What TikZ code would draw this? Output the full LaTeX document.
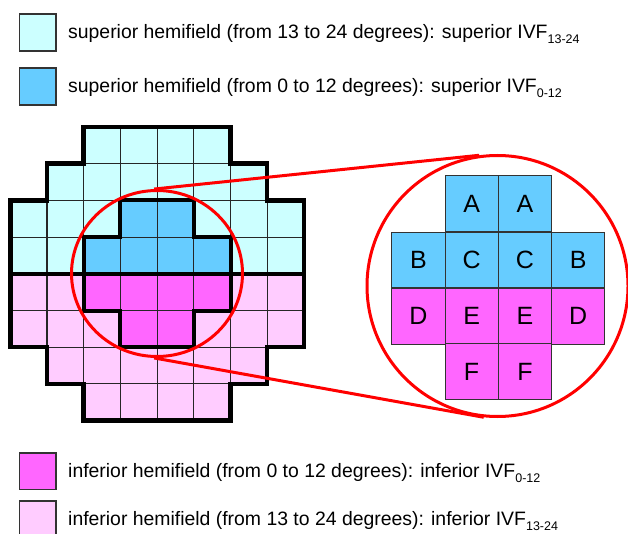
\documentclass[tikz,border=0pt]{standalone}
\usepackage{fontspec}
\setmainfont{Liberation Sans}
\usetikzlibrary{shapes.geometric}
\definecolor{paleblue}{HTML}{CCFFFF}
\definecolor{midblue}{HTML}{66CCFF}
\definecolor{hotpink}{HTML}{FF66FF}
\definecolor{palepink}{HTML}{FFCCFF}
\definecolor{edgegray}{HTML}{333333}
\newcommand{\ivfsub}[1]{\raisebox{-5pt}{\fontsize{12.5pt}{14pt}\selectfont #1}}

\begin{document}
\begin{tikzpicture}[x=1pt,y=-1pt,
  swatch/.style={draw=edgegray, line width=1.5pt, minimum size=36.7pt, inner sep=0pt},
  legtext/.style={anchor=base west, inner sep=0pt, font=\fontsize{19.4pt}{23pt}\selectfont},
  gridthin/.style={line width=1.1pt, draw=black!85},
  gridbold/.style={line width=4.5pt, draw=black},
  crossbold/.style={line width=4pt, draw=black},
  redline/.style={draw=red, line width=3pt},
  cellbox/.style={draw=edgegray, line width=1pt, minimum width=53.2pt, minimum height=55.9pt,
                  inner sep=0pt, font=\fontsize{25pt}{25pt}\selectfont}]

\fill[white] (0,0) rectangle (628,534);
\useasboundingbox (0,0) rectangle (628,534);

% legend
\node[swatch, fill=paleblue] (s1) at (37.6,32.5) {};
\node[legtext] (t1) at (68,38.5) {superior hemifield (from 13 to 24 degrees): superior IVF\ivfsub{13-24}};
\node[swatch, fill=midblue] (s2) at (37.6,86.5) {};
\node[legtext] (t2) at (68,92.5) {superior hemifield (from 0 to 12 degrees): superior IVF\ivfsub{0-12}};
\node[swatch, fill=hotpink] (s3) at (37.6,471.3) {};
\node[legtext] (t3) at (68,477) {inferior hemifield (from 0 to 12 degrees): inferior IVF\ivfsub{0-12}};
\node[swatch, fill=palepink] (s4) at (37.6,519.5) {};
\node[legtext] (t4) at (68,525) {inferior hemifield (from 13 to 24 degrees): inferior IVF\ivfsub{13-24}};

% visual field grid, one unit per test location
\begin{scope}[shift={(10.3pt,-127pt)}, x=36.7pt, y=-36.7pt]
  \fill[paleblue] (2,0)--(6,0)--(6,1)--(7,1)--(7,2)--(8,2)--(8,4)--(0,4)--(0,2)--(1,2)--(1,1)--(2,1)--cycle;
  \fill[palepink] (0,4)--(8,4)--(8,6)--(7,6)--(7,7)--(6,7)--(6,8)--(2,8)--(2,7)--(1,7)--(1,6)--(0,6)--cycle;
  \fill[midblue] (3,2)--(5,2)--(5,3)--(6,3)--(6,4)--(2,4)--(2,3)--(3,3)--cycle;
  \fill[hotpink] (2,4)--(6,4)--(6,5)--(5,5)--(5,6)--(3,6)--(3,5)--(2,5)--cycle;
  \foreach \r/\a/\b in {0/2/5,1/1/6,2/0/7,3/0/7,4/0/7,5/0/7,6/1/6,7/2/5}
    \foreach \c in {\a,...,\b}
      \draw[gridthin] (\c,\r) rectangle ++(1,1);
  \draw[gridbold] (2,0)--(6,0)--(6,1)--(7,1)--(7,2)--(8,2)--(8,6)--(7,6)--(7,7)--(6,7)--(6,8)
      --(2,8)--(2,7)--(1,7)--(1,6)--(0,6)--(0,2)--(1,2)--(1,1)--(2,1)--cycle;
  \draw[crossbold] (0,4)--(8,4);
  \draw[crossbold] (3,2)--(5,2)--(5,3)--(6,3)--(6,5)--(5,5)--(5,6)--(3,6)--(3,5)--(2,5)--(2,3)--(3,3)--cycle;
\end{scope}

% central region and its enlargement
\node[ellipse, redline, minimum width=171pt, minimum height=166pt, inner sep=0pt] (lens) at (157,273.5) {};
\node[circle, redline, minimum size=261pt, inner sep=0pt] (zoomc) at (497.5,286) {};
\draw[redline] (lens.92) -- (zoomc.98);
\draw[redline] (lens.-92) -- (zoomc.-96);

\node[cellbox, fill=midblue] (a1) at (471.6,203.7) {A};
\node[cellbox, fill=midblue] (a2) at (524.9,203.7) {A};
\node[cellbox, fill=midblue] (b1) at (418.4,260) {B};
\node[cellbox, fill=midblue] (c1) at (471.6,260) {C};
\node[cellbox, fill=midblue] (c2) at (524.9,260) {C};
\node[cellbox, fill=midblue] (b2) at (578.1,260) {B};
\node[cellbox, fill=hotpink] (d1) at (418.4,316.2) {D};
\node[cellbox, fill=hotpink] (e1) at (471.6,316.2) {E};
\node[cellbox, fill=hotpink] (e2) at (524.9,316.2) {E};
\node[cellbox, fill=hotpink] (d2) at (578.1,316.2) {D};
\node[cellbox, fill=hotpink] (f1) at (471.6,371.7) {F};
\node[cellbox, fill=hotpink] (f2) at (524.9,371.7) {F};
\end{tikzpicture}
\end{document}
